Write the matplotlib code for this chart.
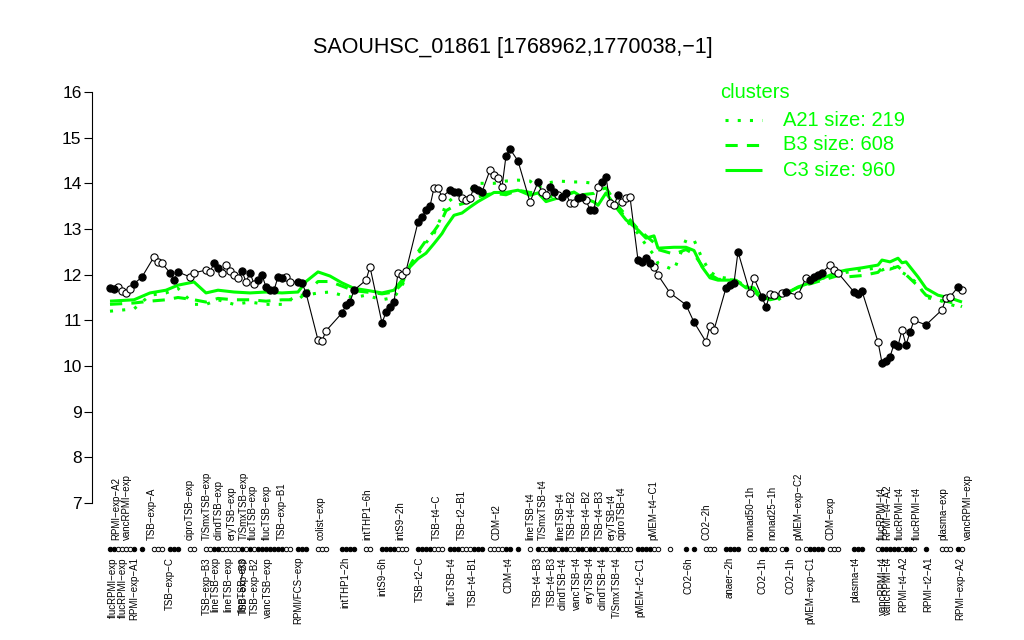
import matplotlib
matplotlib.use('Agg')
import matplotlib.pyplot as plt
from matplotlib.lines import Line2D
import matplotlib.transforms as mtransforms

plt.rcParams['font.family'] = ['Liberation Sans', 'DejaVu Sans']

TITLE = "SAOUHSC_01861 [1768962,1770038,\u22121]"

# sample positions (ordinal index along the x axis)
sample_pos = [1, 2, 3, 4, 5, 6, 7, 9,
              12, 13, 14, 16, 17, 18, 21, 22,
              25, 26, 27, 28, 29, 30, 31, 32, 33, 34, 35, 36, 37, 38, 39, 40, 41, 42, 43, 44, 45, 46,
              48, 49, 50, 53, 54, 55, 59, 60, 61, 62, 65, 66,
              69, 70, 71, 72, 73, 74, 75, 78, 79, 80, 81, 82, 83, 84,
              86, 87, 88, 89, 90, 91, 92, 93, 94,
              96, 97, 98, 99, 100, 101, 103, 106,
              108, 109, 110, 111, 112, 113, 114, 115, 116, 117, 118, 119,
              120, 121, 122, 123, 124, 125, 126, 127, 128, 129, 130, 131,
              133, 134, 135, 136, 137, 138, 141, 145, 147, 150, 151, 152,
              155, 156, 157, 158, 161, 162, 164, 165, 166, 167, 169, 170,
              173, 175, 176, 177, 178, 179, 181, 182, 183, 187, 188, 189,
              193, 194, 195, 196, 197, 198, 199, 200, 201, 202, 205,
              209, 210, 211, 213, 214]

expression = [11.71, 11.69, 11.73, 11.64, 11.60, 11.69, 11.80, 11.95,
              12.39, 12.28, 12.25, 12.04, 11.88, 12.06, 11.95, 12.04,
              12.10, 12.06, 12.25, 12.14, 12.04, 12.21, 12.08, 11.99, 11.93, 12.08, 11.84, 12.04, 11.80, 11.88, 11.99, 11.73, 11.66, 11.66, 11.95, 11.93, 11.95, 11.84,
              11.84, 11.82, 11.60, 10.57, 10.55, 10.77, 11.16, 11.33, 11.40, 11.66, 11.88, 12.17,
              10.94, 11.18, 11.29, 11.40, 12.04, 11.99, 12.08, 13.15, 13.26, 13.41, 13.50, 13.90, 13.90, 13.70,
              13.85, 13.81, 13.81, 13.68, 13.63, 13.68, 13.90, 13.85, 13.81,
              14.29, 14.18, 14.12, 13.92, 14.60, 14.75, 14.49, 13.59,
              14.03, 13.81, 13.74, 13.92, 13.81, 13.74, 13.70, 13.79, 13.57, 13.57, 13.68, 13.70,
              13.63, 13.42, 13.42, 13.92, 14.03, 14.14, 13.57, 13.52, 13.74, 13.59, 13.68, 13.70,
              12.32, 12.28, 12.36, 12.26, 12.17, 11.99, 11.60, 11.34, 10.96, 10.53, 10.88, 10.79,
              11.71, 11.77, 11.82, 12.50, 11.60, 11.93, 11.51, 11.29, 11.58, 11.55, 11.60, 11.62,
              11.55, 11.93, 11.88, 11.95, 11.99, 12.04, 12.21, 12.10, 12.04, 11.62, 11.58, 11.64,
              10.53, 10.07, 10.11, 10.20, 10.48, 10.44, 10.79, 10.46, 10.74, 11.00, 10.90,
              11.23, 11.49, 11.51, 11.73, 11.66]

filled = [1, 1, 0, 0, 0, 0, 1, 1,
          0, 0, 0, 1, 1, 1, 0, 0,
          0, 0, 1, 1, 0, 0, 0, 0, 0, 1, 0, 1, 0, 1, 1, 1, 1, 1, 1, 1, 0, 0,
          1, 1, 1, 0, 0, 0, 1, 1, 1, 1, 0, 0,
          1, 1, 1, 1, 0, 0, 0, 1, 1, 1, 1, 0, 0, 0,
          1, 1, 1, 0, 0, 0, 1, 1, 1,
          0, 0, 0, 0, 1, 1, 1, 0,
          1, 0, 0, 1, 1, 0, 1, 1, 0, 0, 1, 1,
          0, 1, 1, 0, 1, 1, 0, 0, 1, 0, 0, 0,
          1, 1, 1, 1, 0, 0, 0, 1, 1, 0, 0, 0,
          1, 1, 1, 1, 0, 0, 1, 1, 0, 0, 0, 1,
          0, 0, 1, 1, 1, 1, 0, 0, 0, 1, 1, 1,
          0, 1, 1, 1, 1, 1, 0, 1, 1, 0, 1,
          0, 0, 0, 1, 0]

# cluster mean profiles
cluster_pos = [1, 7, 11, 15, 18, 22, 25, 28, 32, 36, 40, 44, 48, 50, 53, 56, 59, 62, 65, 69,
               72, 74, 76, 78, 80, 82, 84, 85, 87, 89, 91, 93, 95, 97, 100, 103, 106, 108, 110, 113,
               117, 119, 122, 123, 125, 128, 130, 133, 135, 137, 138, 142, 145, 147, 149, 151, 153, 157, 158, 160,
               162, 163, 166, 168, 173, 178, 183, 185, 189, 193, 194, 196, 198, 199, 200, 203, 205, 208, 211, 214]

A21 = [11.20, 11.25, 11.55, 11.60, 11.70, 11.35, 11.35, 11.45, 11.35, 11.40, 11.35, 11.35, 11.55, 11.55, 11.60, 11.62, 11.55, 11.50, 11.55, 11.45,
       11.50, 11.75, 12.20, 12.45, 12.70, 12.90, 13.30, 13.55, 13.70, 13.80, 13.85, 14.00, 14.00, 14.00, 14.05, 14.07, 14.05, 13.90, 14.00, 14.05,
       14.03, 14.03, 14.00, 13.90, 13.85, 13.50, 13.20, 12.90, 12.65, 12.43, 12.25, 12.10, 12.76, 12.76, 12.36, 12.06, 11.95, 11.90, 11.85, 11.75,
       11.65, 11.55, 11.48, 11.45, 11.70, 11.90, 12.00, 12.05, 12.10, 12.15, 12.10, 12.17, 12.15, 12.05, 12.00, 11.80, 11.50, 11.45, 11.35, 11.27]

B3 = [11.35, 11.38, 11.42, 11.45, 11.50, 11.45, 11.40, 11.48, 11.45, 11.45, 11.42, 11.45, 11.45, 11.60, 11.85, 11.85, 11.75, 11.65, 11.62, 11.58,
      11.62, 11.80, 12.20, 12.50, 12.75, 12.95, 13.20, 13.40, 13.50, 13.55, 13.60, 13.70, 13.75, 13.78, 13.75, 13.85, 13.80, 13.80, 13.70, 13.72,
      13.80, 13.75, 13.78, 13.85, 13.90, 13.50, 13.30, 13.00, 12.85, 12.70, 12.55, 12.45, 12.55, 12.45, 12.20, 12.00, 11.90, 11.88, 11.85, 11.75,
      11.70, 11.60, 11.50, 11.50, 11.72, 11.85, 11.98, 11.95, 11.98, 12.05, 12.15, 12.12, 12.18, 12.10, 12.00, 11.75, 11.55, 11.45, 11.40, 11.30]

C3 = [11.42, 11.45, 11.60, 11.66, 11.77, 11.84, 11.60, 11.66, 11.62, 11.60, 11.62, 11.60, 11.62, 11.85, 12.06, 11.97, 11.82, 11.70, 11.66, 11.60,
      11.66, 11.88, 12.17, 12.35, 12.47, 12.68, 12.90, 13.05, 13.30, 13.35, 13.48, 13.60, 13.70, 13.80, 13.80, 13.85, 13.74, 13.79, 13.60, 13.68,
      13.81, 13.70, 13.59, 13.52, 13.79, 13.42, 13.20, 12.98, 12.80, 12.85, 12.58, 12.60, 12.60, 12.53, 12.17, 11.93, 11.88, 11.88, 11.84, 11.71,
      11.71, 11.55, 11.45, 11.49, 11.73, 11.88, 12.06, 12.10, 12.15, 12.21, 12.32, 12.28, 12.36, 12.26, 12.28, 11.95, 11.70, 11.55, 11.49, 11.40]

cluster_names = ["A21 size: 219", "B3 size: 608", "C3 size: 960"]

# sample labels (above and below the sample marker row)
top_pos = [2.5, 5.25, 11.5, 21, 25.25, 28.25, 31.5, 34.5, 36.75, 40.25, 44, 53.75, 65.25, 73.5,
           82.75, 89, 97.75, 106, 109.25, 113.5, 116.5, 120.25, 123.5, 126.5, 129, 136.75,
           150.25, 161, 166.5, 173, 181, 194, 195.25, 198.5, 202.75, 209.25, 215.5]
top_labels = ["RPMI\u2212exp\u2212A2", "vancRPMI\u2212exp", "TSB\u2212exp\u2212A", "ciproTSB\u2212exp",
              "T/SmxTSB\u2212exp", "clindTSB\u2212exp", "eryTSB\u2212exp", "T/SmxTSB\u2212exp",
              "flucTSB\u2212exp", "flucTSB\u2212exp", "TSB\u2212exp\u2212B1", "colist\u2212exp",
              "intTHP1\u22126h", "intS9\u22122h", "TSB\u2212t4\u2212C", "TSB\u2212t2\u2212B1", "CDM\u2212t2",
              "lineTSB\u2212t4", "T/SmxTSB\u2212t4", "lineTSB\u2212t4", "TSB\u2212t4\u2212B2", "TSB\u2212t4\u2212B2",
              "TSB\u2212t4\u2212B3", "eryTSB\u2212t4", "ciproTSB\u2212t4", "pMEM\u2212t4\u2212C1", "CO2\u22122h",
              "nonad50\u22121h", "nonad25\u22121h", "pMEM\u2212exp\u2212C2", "CDM\u2212exp", "flucRPMI\u2212t4",
              "RPMI\u2212t4\u2212A2", "flucRPMI\u2212t4", "flucRPMI\u2212t4", "plasma\u2212exp", "vancRPMI\u2212exp"]

bottom_pos = [1.75, 4.25, 7, 16, 25.25, 27.25, 30.5, 34, 34.5, 37.25, 40.5, 48, 59.75, 69, 78.5,
              86.5, 91.75, 100.5, 108, 111.5, 114.25, 117.75, 121, 124.25, 127.75, 133.5, 145.5,
              156, 164.25, 171, 176, 187.25, 194.25, 195.5, 199.25, 205.5, 213.5]
bottom_labels = ["flucRPMI\u2212exp", "flucRPMI\u2212exp", "RPMI\u2212exp\u2212A1", "TSB\u2212exp\u2212C",
                 "TSB\u2212exp\u2212B3", "lineTSB\u2212exp", "lineTSB\u2212exp", "lineTSB\u2212exp",
                 "TSB\u2212exp\u2212B3", "TSB\u2212exp\u2212B2", "vancTSB\u2212exp", "RPMI/FCS\u2212exp",
                 "intTHP1\u22122h", "intS9\u22126h", "TSB\u2212t2\u2212C", "flucTSB\u2212t4", "TSB\u2212t4\u2212B1",
                 "CDM\u2212t4", "TSB\u2212t4\u2212B3", "TSB\u2212t4\u2212B3", "clindTSB\u2212t4", "vancTSB\u2212t4",
                 "eryTSB\u2212t4", "clindTSB\u2212t4", "T/SmxTSB\u2212t4", "pMEM\u2212t2\u2212C1", "CO2\u22126h",
                 "anaer\u22122h", "CO2\u22121h", "CO2\u22121h", "pMEM\u2212exp\u2212C1", "plasma\u2212t4",
                 "vancRPMI\u2212t4", "vancRPMI\u2212t4", "RPMI\u2212t4\u2212A2", "RPMI\u2212t2\u2212A1", "RPMI\u2212exp\u2212A2"]

y_ticks = [7, 8, 9, 10, 11, 12, 13, 14, 15, 16]

GREEN = '#00ff00'
W, H = 1024, 640

fig = plt.figure(figsize=(W / 100, H / 100), dpi=100)
ax = fig.add_axes([92 / W, 1 - 519.4 / H, 898 / W, (519.4 - 75.6) / H])
ax.set_xlim(-3.5, 221)
ax.set_ylim(6.641, 16.359)

styles = [(0, (1, 3)), (0, (4, 3)), '-']
for vals, ls in zip([A21, B3, C3], styles):
    ax.plot(cluster_pos, vals, color=GREEN, lw=2.2, linestyle=ls,
            dash_capstyle='butt', solid_capstyle='butt', zorder=2)

ax.plot(sample_pos, expression, color='black', lw=0.8, zorder=3)
fx = [x for x, f in zip(sample_pos, filled) if f]
fy = [y for y, f in zip(expression, filled) if f]
ox = [x for x, f in zip(sample_pos, filled) if not f]
oy = [y for y, f in zip(expression, filled) if not f]
ax.plot(ox, oy, 'o', ms=5.2, mfc='white', mec='black', mew=0.8, zorder=4)
ax.plot(fx, fy, 'o', ms=5.2, mfc='black', mec='black', mew=0.8, zorder=5)

blend = mtransforms.blended_transform_factory(ax.transData, fig.transFigure)
row_y = 1 - 549 / H
ax.plot(ox, [row_y] * len(ox), 'o', ms=3.2, mfc='white', mec='black', mew=0.7,
        transform=blend, clip_on=False)
ax.plot(fx, [row_y] * len(fx), 'o', ms=3.2, mfc='black', mec='black', mew=0.7,
        transform=blend, clip_on=False)

for x, lab in zip(top_pos, top_labels):
    ax.text(x, 1 - 540 / H, lab, rotation=90, ha='center', va='bottom', fontsize=7,
            transform=blend, clip_on=False)
for x, lab in zip(bottom_pos, bottom_labels):
    ax.text(x, 1 - 557 / H, lab, rotation=90, ha='center', va='top', fontsize=7,
            transform=blend, clip_on=False)

for s in ['top', 'right', 'bottom']:
    ax.spines[s].set_visible(False)
ax.spines['left'].set_bounds(7, 16)
ax.spines['left'].set_linewidth(0.8)
ax.set_xticks([])
ax.set_yticks(y_ticks)
ax.set_yticklabels([str(t) for t in y_ticks])
ax.tick_params(axis='y', length=5.5, width=0.8, labelsize=12.5, pad=2)

fig.text(513 / W, 1 - 47 / H, TITLE, ha='center', va='center', fontsize=15.5)

# legend
fig.text(720 / W, 1 - 93 / H, 'clusters', color=GREEN, fontsize=14.5, ha='left', va='center')
for i, (name, ls) in enumerate(zip(cluster_names, styles)):
    yy = 1 - (120 + 25 * i) / H
    fig.add_artist(Line2D([725 / W, 762 / W], [yy, yy], transform=fig.transFigure,
                          color=GREEN, lw=2.2, linestyle=ls, dash_capstyle='butt',
                          solid_capstyle='butt'))
    fig.text(783 / W, yy, name, color=GREEN, fontsize=14.5, ha='left', va='center')

fig.savefig('out.png', dpi=100)
